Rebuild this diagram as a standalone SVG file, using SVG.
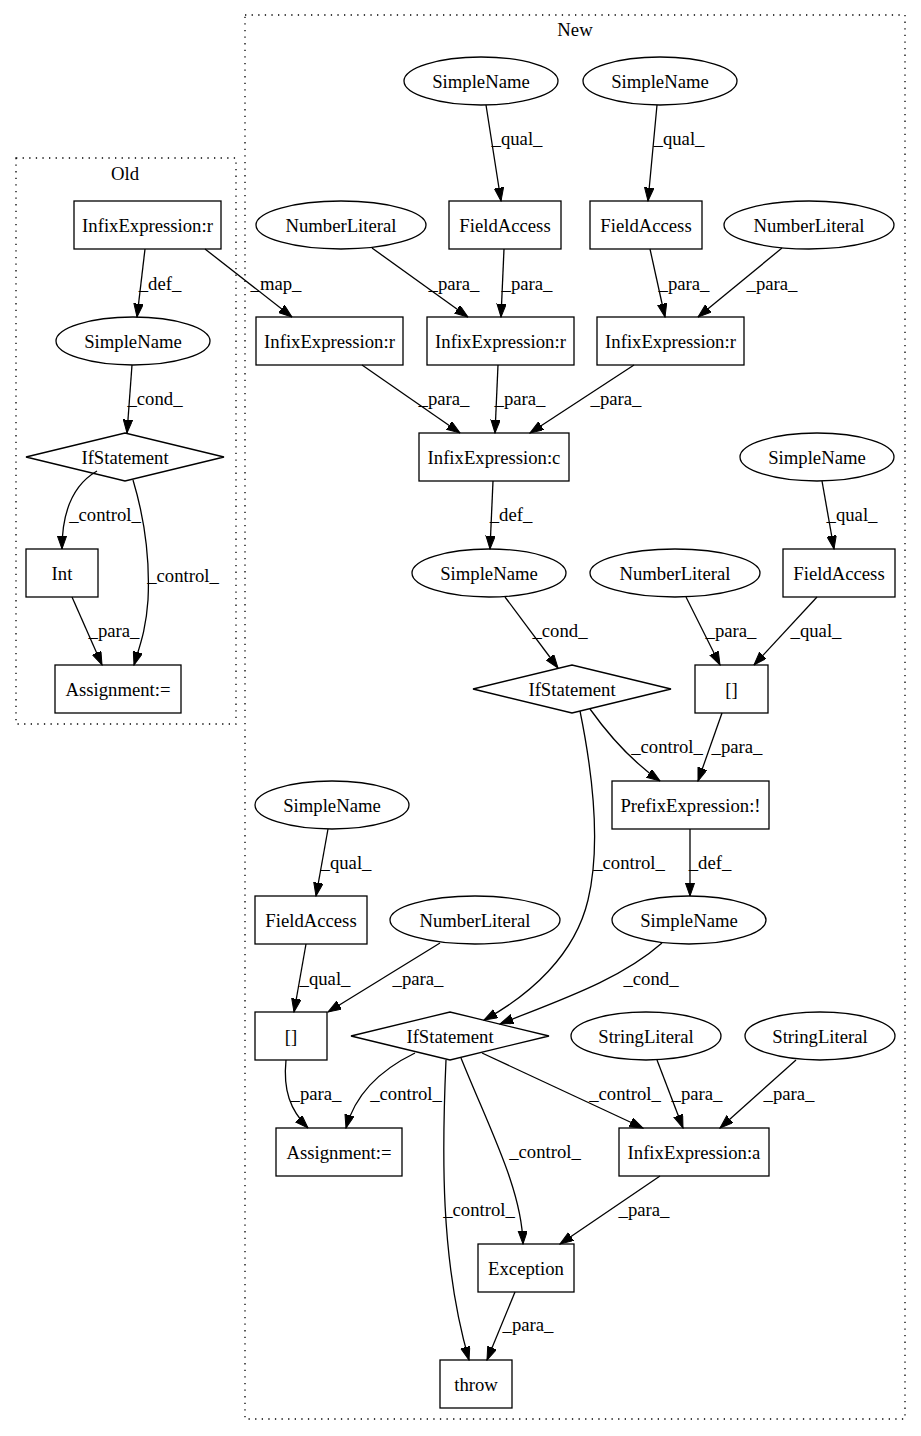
<svg xmlns="http://www.w3.org/2000/svg" width="921" height="1436" viewBox="0 0 921 1436">
<defs>
<marker id="arr" markerUnits="userSpaceOnUse" markerWidth="14" markerHeight="10" refX="13.3" refY="4.7" orient="auto">
<path d="M0,0 L13.3,4.7 L0,9.4 Z" fill="#000" stroke="#000" stroke-width="1"/>
</marker>
</defs>
<style>
.n{fill:#fff;stroke:#000;stroke-width:1.3}
.c{fill:none;stroke:#000;stroke-width:1.3;stroke-dasharray:1.3,5.3}
.t{font-family:"Liberation Serif",serif;font-size:18.7px;text-anchor:middle;fill:#000}
.e{fill:none;stroke:#000;stroke-width:1.3;marker-end:url(#arr)}
</style>
<rect width="921" height="1436" fill="#fff"/>
<g id="cluster_old">
<rect class="c" x="16" y="158" width="220" height="566"/>
<text class="t" x="125" y="180">Old</text>
</g>
<g id="cluster_new">
<rect class="c" x="245" y="15" width="660" height="1404"/>
<text class="t" x="575" y="36">New</text>
</g>
<g id="o_ie"><rect class="n" x="74" y="201" width="147" height="48"/><text class="t" x="147.5" y="231.5">InfixExpression:r</text></g>
<g id="o_sn"><ellipse class="n" cx="133" cy="341" rx="77" ry="24"/><text class="t" x="133" y="347.5">SimpleName</text></g>
<g id="o_if"><polygon class="n" points="26,457 125,433 224,457 125,481"/><text class="t" x="125" y="463.5">IfStatement</text></g>
<g id="o_int"><rect class="n" x="26" y="549" width="72" height="48"/><text class="t" x="62" y="579.5">Int</text></g>
<g id="o_asg"><rect class="n" x="55" y="665" width="126" height="48"/><text class="t" x="118" y="695.5">Assignment:=</text></g>
<g id="sn1"><ellipse class="n" cx="481" cy="81" rx="77" ry="24"/><text class="t" x="481" y="87.5">SimpleName</text></g>
<g id="sn2"><ellipse class="n" cx="660" cy="81" rx="77" ry="24"/><text class="t" x="660" y="87.5">SimpleName</text></g>
<g id="nl1"><ellipse class="n" cx="341" cy="225" rx="85" ry="24"/><text class="t" x="341" y="231.5">NumberLiteral</text></g>
<g id="fa1"><rect class="n" x="449" y="201" width="112" height="48"/><text class="t" x="505" y="231.5">FieldAccess</text></g>
<g id="fa2"><rect class="n" x="590" y="201" width="112" height="48"/><text class="t" x="646" y="231.5">FieldAccess</text></g>
<g id="nl2"><ellipse class="n" cx="809" cy="225" rx="85" ry="24"/><text class="t" x="809" y="231.5">NumberLiteral</text></g>
<g id="ie_a"><rect class="n" x="256" y="317" width="147" height="48"/><text class="t" x="329.5" y="347.5">InfixExpression:r</text></g>
<g id="ie_b"><rect class="n" x="427" y="317" width="147" height="48"/><text class="t" x="500.5" y="347.5">InfixExpression:r</text></g>
<g id="ie_c"><rect class="n" x="597" y="317" width="147" height="48"/><text class="t" x="670.5" y="347.5">InfixExpression:r</text></g>
<g id="ie_cc"><rect class="n" x="419" y="433" width="150" height="48"/><text class="t" x="494" y="463.5">InfixExpression:c</text></g>
<g id="sn3"><ellipse class="n" cx="817" cy="457" rx="77" ry="24"/><text class="t" x="817" y="463.5">SimpleName</text></g>
<g id="sn4"><ellipse class="n" cx="489" cy="573" rx="77" ry="24"/><text class="t" x="489" y="579.5">SimpleName</text></g>
<g id="nl3"><ellipse class="n" cx="675" cy="573" rx="85" ry="24"/><text class="t" x="675" y="579.5">NumberLiteral</text></g>
<g id="fa3"><rect class="n" x="783" y="549" width="112" height="48"/><text class="t" x="839" y="579.5">FieldAccess</text></g>
<g id="if1"><polygon class="n" points="473,689 572,665 671,689 572,713"/><text class="t" x="572" y="695.5">IfStatement</text></g>
<g id="br1"><rect class="n" x="695" y="665" width="73" height="48"/><text class="t" x="731.5" y="695.5">[]</text></g>
<g id="pre"><rect class="n" x="612" y="781" width="157" height="48"/><text class="t" x="690.5" y="811.5">PrefixExpression:!</text></g>
<g id="sn5"><ellipse class="n" cx="332" cy="805" rx="77" ry="24"/><text class="t" x="332" y="811.5">SimpleName</text></g>
<g id="fa4"><rect class="n" x="255" y="896" width="112" height="48"/><text class="t" x="311" y="926.5">FieldAccess</text></g>
<g id="nl4"><ellipse class="n" cx="475" cy="920" rx="85" ry="24"/><text class="t" x="475" y="926.5">NumberLiteral</text></g>
<g id="sn6"><ellipse class="n" cx="689" cy="920" rx="77" ry="24"/><text class="t" x="689" y="926.5">SimpleName</text></g>
<g id="br2"><rect class="n" x="255" y="1012" width="72" height="48"/><text class="t" x="291" y="1042.5">[]</text></g>
<g id="if2"><polygon class="n" points="351,1036 450,1012 549,1036 450,1060"/><text class="t" x="450" y="1042.5">IfStatement</text></g>
<g id="sl1"><ellipse class="n" cx="646" cy="1036" rx="75" ry="24"/><text class="t" x="646" y="1042.5">StringLiteral</text></g>
<g id="sl2"><ellipse class="n" cx="820" cy="1036" rx="75" ry="24"/><text class="t" x="820" y="1042.5">StringLiteral</text></g>
<g id="asg2"><rect class="n" x="276" y="1128" width="126" height="48"/><text class="t" x="339" y="1158.5">Assignment:=</text></g>
<g id="infa"><rect class="n" x="619" y="1128" width="150" height="48"/><text class="t" x="694" y="1158.5">InfixExpression:a</text></g>
<g id="exc"><rect class="n" x="478" y="1244" width="96" height="48"/><text class="t" x="526" y="1274.5">Exception</text></g>
<g id="throw"><rect class="n" x="440" y="1360" width="72" height="48"/><text class="t" x="476" y="1390.5">throw</text></g>
<g id="edges">
<path class="e" d="M145,249 L137,317"/><text class="t" x="160" y="290">_def_</text>
<path class="e" d="M132,365 L127,433"/><text class="t" x="155" y="405">_cond_</text>
<path class="e" d="M97,471 C78,482 62,505 62,549"/><text class="t" x="105" y="521">_control_</text>
<path class="e" d="M133,480 C145,520 150,560 148,600 C146,630 140,645 134,665"/><text class="t" x="183" y="582">_control_</text>
<path class="e" d="M72,597 L102,665"/><text class="t" x="114" y="637">_para_</text>
<path class="e" d="M205,249 L292,317"/><text class="t" x="276" y="290">_map_</text>
<path class="e" d="M486,105 L501,201"/><text class="t" x="517" y="145">_qual_</text>
<path class="e" d="M657,105 L648,201"/><text class="t" x="679" y="145">_qual_</text>
<path class="e" d="M372,248 L468,317"/><text class="t" x="454" y="290">_para_</text>
<path class="e" d="M504,249 L501,317"/><text class="t" x="527" y="290">_para_</text>
<path class="e" d="M650,249 L665,317"/><text class="t" x="684" y="290">_para_</text>
<path class="e" d="M782,248 L698,317"/><text class="t" x="772" y="290">_para_</text>
<path class="e" d="M362,365 L460,433"/><text class="t" x="444" y="405">_para_</text>
<path class="e" d="M498,365 L495,433"/><text class="t" x="520" y="405">_para_</text>
<path class="e" d="M634,365 L530,433"/><text class="t" x="616" y="405">_para_</text>
<path class="e" d="M493,481 L490,549"/><text class="t" x="511" y="521">_def_</text>
<path class="e" d="M822,481 L834,549"/><text class="t" x="852" y="521">_qual_</text>
<path class="e" d="M505,597 L558,668"/><text class="t" x="560" y="637">_cond_</text>
<path class="e" d="M686,597 L720,665"/><text class="t" x="731" y="637">_para_</text>
<path class="e" d="M817,597 L754,665"/><text class="t" x="816" y="637">_qual_</text>
<path class="e" d="M590,709 C605,730 630,760 660,781"/><text class="t" x="667" y="753">_control_</text>
<path class="e" d="M722,713 L698,781"/><text class="t" x="737" y="753">_para_</text>
<path class="e" d="M580,711 C594,780 600,850 588,900 C575,955 530,995 484,1020"/><text class="t" x="629" y="869">_control_</text>
<path class="e" d="M690,829 L690,896"/><text class="t" x="710" y="869">_def_</text>
<path class="e" d="M328,829 L316,896"/><text class="t" x="346" y="869">_qual_</text>
<path class="e" d="M306,944 L294,1012"/><text class="t" x="325" y="985">_qual_</text>
<path class="e" d="M440,943 L328,1012"/><text class="t" x="418" y="985">_para_</text>
<path class="e" d="M662,943 C620,980 560,1000 500,1024"/><text class="t" x="651" y="985">_cond_</text>
<path class="e" d="M286,1060 C283,1090 290,1110 308,1128"/><text class="t" x="316" y="1100">_para_</text>
<path class="e" d="M415,1053 C380,1070 355,1095 346,1128"/><text class="t" x="406" y="1100">_control_</text>
<path class="e" d="M482,1053 L643,1128"/><text class="t" x="625" y="1100">_control_</text>
<path class="e" d="M657,1060 L683,1128"/><text class="t" x="697" y="1100">_para_</text>
<path class="e" d="M796,1060 L720,1128"/><text class="t" x="789" y="1100">_para_</text>
<path class="e" d="M461,1058 C490,1130 522,1190 523,1244"/><text class="t" x="545" y="1158">_control_</text>
<path class="e" d="M446,1060 C442,1150 440,1260 469,1360"/><text class="t" x="479" y="1216">_control_</text>
<path class="e" d="M660,1176 L560,1244"/><text class="t" x="644" y="1216">_para_</text>
<path class="e" d="M515,1292 L487,1360"/><text class="t" x="528" y="1331">_para_</text>
</g>
</svg>
